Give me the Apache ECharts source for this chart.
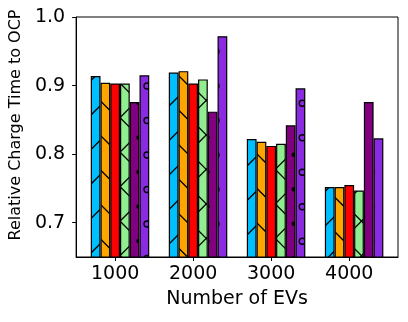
<!DOCTYPE html>
<html>
<head>
<meta charset="utf-8">
<script src="https://cdn.jsdelivr.net/npm/echarts@6/dist/echarts.min.js"></script>
<style>
  html, body { margin: 0; padding: 0; background: #fff; }
  #chart { width: 408px; height: 322px; }
</style>
</head>
<body>
<div id="chart"></div>
<script>
// data
const categories = ['1000', '2000', '3000', '4000']
const blueVals   = [0.914, 0.919, 0.822, 0.752]
const orangeVals = [0.904, 0.921, 0.818, 0.752]
const redVals    = [0.903, 0.903, 0.812, 0.755]
const greenVals  = [0.903, 0.909, 0.815, 0.747]
const purpleVals = [0.876, 0.862, 0.842, 0.876]
const violetVals = [0.915, 0.972, 0.896, 0.823]
const yTicks = [0.7, 0.8, 0.9, 1.0]

// hatch fill like matplotlib's '/', '\\', 'x', '.', 'o'
// P = hatch period in px, tile holds 2x2 periods, (ox, oy) = phase of the lattice
const P = 34.5
const makeHatch = (bg, kind, ox, oy) => {
  const T = P * 2
  const c = document.createElement('canvas')
  c.width = T
  c.height = T
  const g = c.getContext('2d')
  g.fillStyle = bg
  g.fillRect(0, 0, T, T)
  g.strokeStyle = '#000'
  g.fillStyle = '#000'
  g.lineWidth = 1.3
  const line = (x1, y1, x2, y2) => {
    g.beginPath(); g.moveTo(x1, y1); g.lineTo(x2, y2); g.stroke()
  }
  if (kind === '/' || kind === 'x') {
    // x + y = ox + oy + k*P
    for (let k = -4; k <= 8; k++) {
      const s = ox + oy + k * P
      line(s + 10, -10, -10, s + 10)
    }
  }
  if (kind === '\\' || kind === 'x') {
    // y - x = oy - ox + k*P
    for (let k = -6; k <= 6; k++) {
      const d = oy - ox + k * P
      line(-10, d - 10, T + 10, d + T + 10)
    }
  }
  if (kind === 'o' || kind === '.') {
    for (let i = -2; i <= 3; i++) {
      for (let j = -2; j <= 3; j++) {
        [[ox + i * P, oy + j * P], [ox + (i + 0.5) * P, oy + (j + 0.5) * P]].forEach(([x, y]) => {
          g.beginPath()
          g.arc(x, y, kind === 'o' ? 3 : 2.2, 0, Math.PI * 2)
          if (kind === 'o') g.stroke()
          else g.fill()
        })
      }
    }
  }
  return { image: c, repeat: 'repeat' }
}

const seriesDefs = [
  { vals: blueVals,   color: '#00bfff', hatch: '/',  ox: 0,    oy: 33.5 },
  { vals: orangeVals, color: '#ffa500', hatch: '\\', ox: 0,    oy: 0.5 },
  { vals: redVals,    color: '#ff0000', hatch: '',   ox: 0,    oy: 0 },
  { vals: greenVals,  color: '#90ee90', hatch: 'x',  ox: 16.5, oy: 14.2 },
  { vals: purpleVals, color: '#800080', hatch: '.',  ox: 0.5,  oy: -0.5 },
  { vals: violetVals, color: '#8a2be2', hatch: 'o',  ox: 9,    oy: 17 }
]

const BAR_W = 9.75

const chart = echarts.init(document.getElementById('chart'), null, { renderer: 'canvas' })

// first (empty) bar slot shifts the group half a bar to the right, like the original
const series = [{ type: 'bar', data: [], barWidth: BAR_W, barGap: '0%', silent: true }]
seriesDefs.forEach(d => {
  series.push({
    type: 'bar',
    barWidth: BAR_W,
    barGap: '0%',
    data: d.vals.map((v, i) => [i, v]),
    itemStyle: {
      color: d.hatch ? makeHatch(d.color, d.hatch, d.ox, d.oy) : d.color,
      borderColor: '#000',
      borderWidth: 1.2
    }
  })
})

const font = 'DejaVu Sans'

chart.setOption({
  animation: false,
  grid: {
    left: 76, right: 10, top: 17, bottom: 65,
    show: true, borderColor: '#000', borderWidth: 1, backgroundColor: 'transparent'
  },
  xAxis: {
    type: 'value',
    min: -0.5,
    max: 3.625,
    name: 'Number of EVs',
    nameLocation: 'middle',
    nameGap: 33,
    nameTextStyle: { fontFamily: font, fontSize: 19, color: '#000' },
    axisLine: { show: true, onZero: false, lineStyle: { color: '#000', width: 1 } },
    axisTick: { show: true, inside: false, length: 4, customValues: [0, 1, 2, 3], lineStyle: { color: '#000' } },
    axisLabel: {
      customValues: [0, 1, 2, 3],
      formatter: v => categories[Math.round(v)],
      margin: 8,
      fontFamily: font, fontSize: 19, color: '#000'
    },
    splitLine: { show: false }
  },
  yAxis: {
    type: 'value',
    min: 0.65,
    max: 1.0,
    name: 'Relative Charge Time to OCP',
    nameLocation: 'middle',
    nameGap: 49,
    nameTextStyle: { fontFamily: font, fontSize: 16, color: '#000', padding: [0, 0, 0, 24] },
    axisLine: { show: true, onZero: false, lineStyle: { color: '#000', width: 1 } },
    axisTick: { show: true, inside: false, length: 4, customValues: yTicks, lineStyle: { color: '#000' } },
    axisLabel: {
      customValues: yTicks,
      formatter: v => v.toFixed(1),
      margin: 11,
      fontFamily: font, fontSize: 19, color: '#000'
    },
    splitLine: { show: false }
  },
  series: series
})
</script>
</body>
</html>
